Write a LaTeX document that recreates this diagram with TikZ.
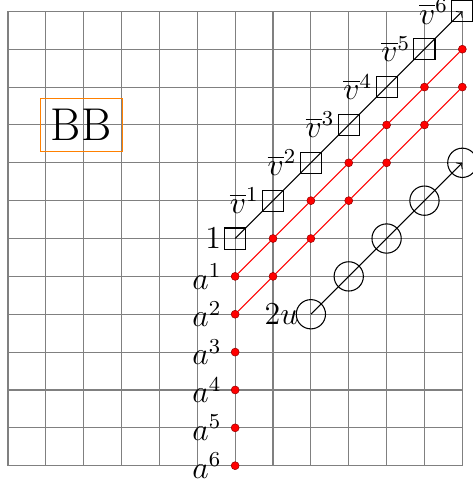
\documentclass[tikz,border=0pt]{standalone}
\usepackage{amsmath,amssymb}
\usepackage{tikz}

\begin{document}
\begin{tikzpicture}[x=0.5cm,y=0.5cm,font=\large,
  sqbox/.style={draw,minimum size=7.9pt,inner sep=0pt},
  reddot/.style={circle,fill=red,draw=red!60!black,line width=0.2pt,inner sep=0pt,minimum size=3pt},
  ring/.style={circle,draw,minimum size=11pt,inner sep=0pt}]
\useasboundingbox (-0.211,-0.51) rectangle (12.26,12.30);
\draw[gray,step=0.5cm] (0,0) grid (12,12);
\node[draw=orange,minimum width=30.8pt,minimum height=19.9pt,inner sep=0pt,font=\LARGE] (bb) at (1.93,9) {BB};
\node[sqbox,label={[inner sep=1pt]left:$1$}] (v0) at (6,6) {};
\foreach \k in {1,...,6}
  \node[sqbox,label={[inner sep=1pt]left:$\overline{v}^{\k}$}] (v\k) at (6+\k,6+\k) {};
\draw[->] (v0.center) -- (v6.center);
\foreach \k in {1,...,6}
  \node[reddot,label=left:$a^{\k}$] (a\k) at (6,6-\k) {};
\foreach \k in {1,...,6} {
  \node[reddot] (p\k) at (6+\k,5+\k) {};
  \node[reddot] (q\k) at (6+\k,4+\k) {};
}
\draw[red] (a1) -- (p1);
\draw[red] (a2) -- (q1);
\foreach \k [evaluate=\k as \j using int(\k+1)] in {1,...,5} {
  \draw[red] (p\k) -- (p\j);
  \draw[red] (q\k) -- (q\j);
}
\node[ring,label={[inner sep=0pt,label distance=-1.1pt]left:$2u$}] (u0) at (8,4) {};
\foreach \k in {1,...,4}
  \node[ring] (u\k) at (8+\k,4+\k) {};
\draw[->] (u0.center) -- (u4.center);
\end{tikzpicture}
\end{document}
